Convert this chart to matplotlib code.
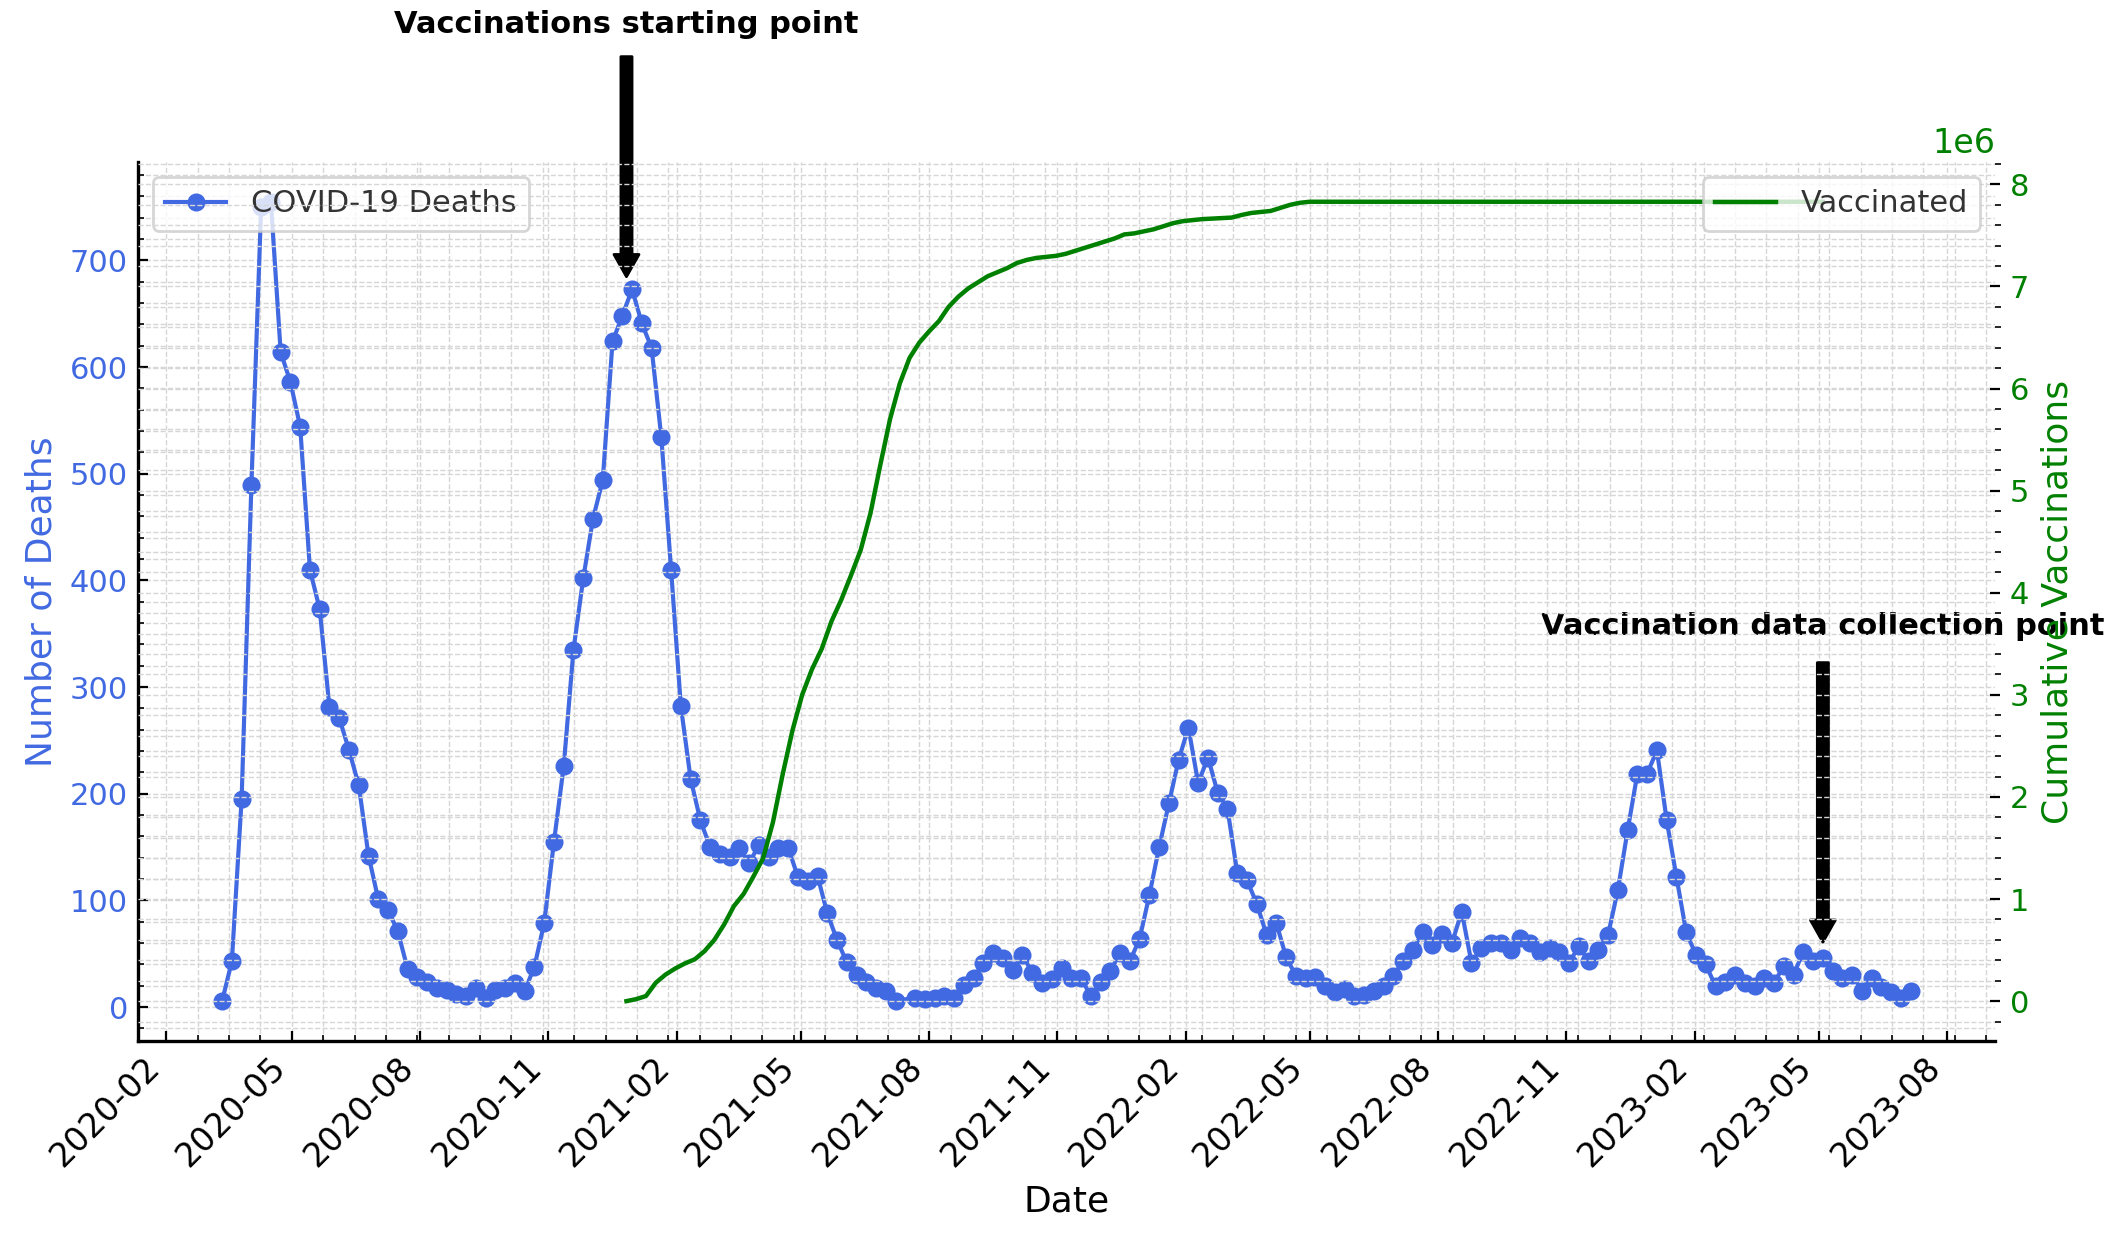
import numpy as np
import pandas as pd
import matplotlib
matplotlib.use("Agg")
import matplotlib.pyplot as plt
import matplotlib.dates as mdates

# weekly COVID-19 deaths (one week missing in mid 2021)
deaths = [5.6, 43, 195, 489, 750, 755, 614, 586, 544, 410,
          373, 281, 271, 241, 208, 142, 101, 91, 71, 36,
          28, 24, 18, 16.5, 12, 10, 18, 9, 16.5, 18,
          23, 15, 38, 79, 155, 226, 335, 402, 458, 494,
          624, 648, 673, 641, 618, 534, 410, 282, 214, 175,
          150, 144, 141, 149, 135, 152, 141, 149, 149, 122,
          118, 123, 88, 63, 42, 30.5, 24, 17.5, 15, 5.6,
          9, 7.5, 9, 10.6, 9, 21, 27.6, 41.6, 51, 46,
          35, 49, 32, 23, 26, 37, 27.6, 27.6, 10, 24,
          33.6, 51, 43, 64, 105, 150, 191, 232, 262, 210,
          234, 201, 186, 126, 119, 97, 68, 79, 47, 29.6,
          27.6, 28, 19.6, 14, 16.6, 10, 11, 15, 20, 29.6,
          43, 54, 70, 58.5, 69, 60, 89.6, 41.6, 55.7, 60,
          60, 54, 65, 60, 52, 55.7, 52, 41.6, 57, 43,
          54, 68, 110, 166, 219, 219, 240.6, 175, 122, 70,
          49, 40, 19.6, 24, 30.5, 23, 19.6, 27.6, 23, 38.5,
          30.5, 52, 43, 46, 33.6, 27.6, 30.5, 15, 27.6, 18.4,
          13.7, 9, 15]
death_dates = pd.date_range("2020-03-12", periods=174, freq="7D").delete(70)

# cumulative vaccinations, millions
vacc_millions = [0, 0.02, 0.05, 0.18, 0.26, 0.32, 0.37, 0.41, 0.49, 0.6,
                 0.75, 0.93, 1.05, 1.22, 1.4, 1.75, 2.22, 2.65, 3.0, 3.25,
                 3.45, 3.72, 3.93, 4.17, 4.42, 4.78, 5.25, 5.7, 6.05, 6.3,
                 6.45, 6.56, 6.66, 6.8, 6.9, 6.98, 7.04, 7.1, 7.14, 7.18,
                 7.23, 7.26, 7.28, 7.29, 7.30, 7.32, 7.35, 7.38, 7.41, 7.44,
                 7.47, 7.51, 7.52, 7.54, 7.56, 7.59, 7.62, 7.64, 7.65, 7.66,
                 7.665, 7.67, 7.675, 7.70, 7.72, 7.73, 7.74, 7.77, 7.80, 7.82,
                 7.83, 7.83]
vacc_dates = pd.date_range("2020-12-27", periods=71, freq="7D").append(
    pd.DatetimeIndex(["2023-05-04"]))
vaccinated = np.array(vacc_millions) * 1e6

start_death = 673      # deaths around the vaccination start
collect_date = pd.Timestamp("2023-05-04")
collect_death = 46

fig, ax1 = plt.subplots(figsize=(10.59, 6.175), dpi=200)
fig.subplots_adjust(left=0.065, right=0.942, top=0.869, bottom=0.157)

ax1.plot(death_dates, deaths, color="royalblue", marker="o", markersize=5.5,
         linewidth=1.5, label="COVID-19 Deaths")
ax1.set_xlabel("Date", fontsize=13)
ax1.set_ylabel("Number of Deaths", color="royalblue", fontsize=13)
ax1.tick_params(axis="y", labelcolor="royalblue", labelsize=11)
ax1.tick_params(axis="x", labelsize=12)
ax1.tick_params(which="both", direction="in")
ax1.xaxis.set_major_locator(mdates.MonthLocator(bymonth=[2, 5, 8, 11]))
ax1.xaxis.set_major_formatter(mdates.DateFormatter("%Y-%m"))
ax1.minorticks_on()
plt.setp(ax1.get_xticklabels(), rotation=45, ha="right")
ax1.grid(True, which="both", linestyle="--", linewidth=0.5, color="0.84")
for s in ["top", "right"]:
    ax1.spines[s].set_visible(False)
for s in ["left", "bottom"]:
    ax1.spines[s].set_linewidth(1.2)
    ax1.spines[s].set_color("black")
ax1.legend(loc="upper left", fontsize=11, labelcolor="0.2")

ax2 = ax1.twinx()
ax2.plot(vacc_dates, vaccinated, color="green", linewidth=1.6, label="Vaccinated")
ax2.set_ylabel("Cumulative Vaccinations", color="green", fontsize=13)
ax2.tick_params(axis="y", labelcolor="green", labelsize=11, direction="inout")
ax2.yaxis.get_offset_text().set_color("green")
ax2.yaxis.get_offset_text().set_fontsize(12)
ax2.minorticks_on()
ax2.grid(True, which="both", linestyle="--", linewidth=0.5, color="0.84")
for s in ax2.spines.values():
    s.set_visible(False)
ax2.legend(loc="upper right", fontsize=11, labelcolor="0.2")

arrow = dict(facecolor="black", shrink=0.05, width=4, headwidth=9, headlength=8)
ax1.annotate("Vaccinations starting point", xy=(vacc_dates[0], start_death),
             xytext=(vacc_dates[0], 908), ha="center", va="bottom",
             fontsize=11, fontweight="bold", arrowprops=arrow)
ax1.annotate("Vaccination data collection point", xy=(collect_date, collect_death),
             xytext=(collect_date, 343), ha="center", va="bottom",
             fontsize=11, fontweight="bold", arrowprops=arrow)

fig.savefig("out.png", dpi=200)
